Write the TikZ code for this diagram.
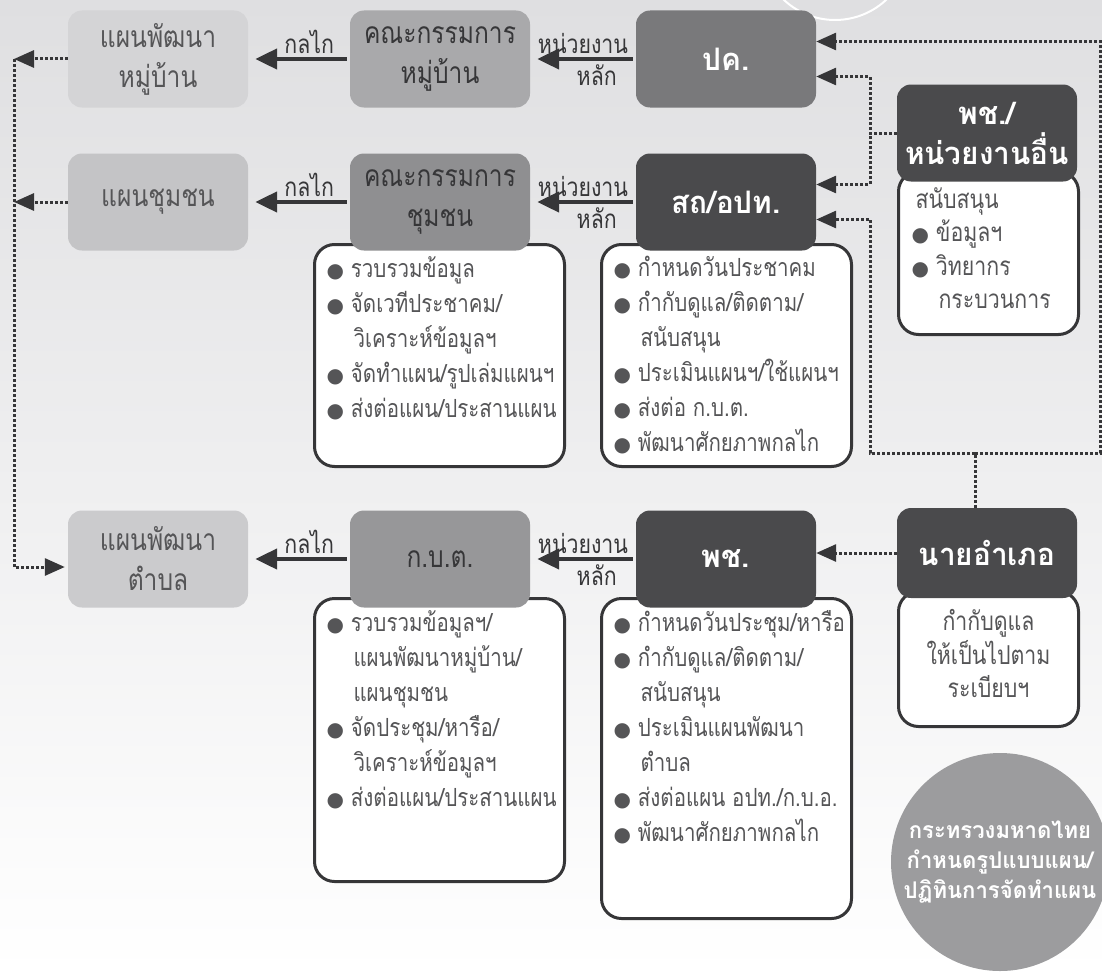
\documentclass[tikz,border=0pt]{standalone}
\usepackage{fontspec}
\usepackage{tikz}
\usetikzlibrary{arrows.meta}
\newfontfamily\thaif[Script=Thai,FakeStretch=0.82]{Loma}
\newfontfamily\thaiw[Script=Thai,FakeStretch=0.96]{Loma}
\newfontfamily\symf{DejaVu Sans}
\definecolor{ink}{HTML}{363638}
\definecolor{txt}{HTML}{555557}
\definecolor{bgtop}{HTML}{DFDFE1}
\definecolor{planA}{HTML}{D4D4D6}
\definecolor{planB}{HTML}{C4C4C6}
\definecolor{planC}{HTML}{CBCBCD}
\definecolor{teamA}{HTML}{A9A9AB}
\definecolor{teamB}{HTML}{8F8F91}
\definecolor{teamC}{HTML}{979799}
\definecolor{mid}{HTML}{79797B}
\definecolor{dark}{HTML}{4A4A4C}
\definecolor{moi}{HTML}{9C9C9E}
\newcommand\unit[5][unit]{\node[#1,fill=#4] (#2) at (#3) {#5};}
\newcommand\duty[4]{\node[duty] (#1) at (#2) {\parbox[c][#3][t]{226pt}{\raggedright #4}};}
\newcommand\bul{{\symf\fontsize{20}{20}\selectfont ●}\nobreak\hspace{7pt}\nobreak}
\newcommand\ind{\hspace*{27pt}}

\begin{document}
\begin{tikzpicture}[x=1pt,y=-1pt]
\tikzstyle{unit}=[rounded corners=14pt,minimum width=180pt,minimum height=97pt,inner sep=0pt,align=center,text=txt,font=\thaif\fontsize{30}{40}\selectfont]
\tikzstyle{team}=[unit,text=ink]
\tikzstyle{boss}=[unit,text=white,font=\thaiw\bfseries\fontsize{31}{40}\selectfont]
\tikzstyle{duty}=[draw=ink,line width=3pt,fill=white,rounded corners=20pt,anchor=north west,inner xsep=12pt,inner ysep=12pt,text=txt,font=\thaif\fontsize{25}{35}\selectfont]
\tikzstyle{main}=[ink,line width=4.5pt,shorten >=7pt,shorten <=3pt,-{Triangle[length=22pt,width=20pt]}]
\tikzstyle{feed}=[ink,line width=3pt,dotted,-{Triangle[length=20pt,width=17pt]}]
\tikzstyle{say}=[text=ink,font=\thaif\fontsize{26}{30}\selectfont,inner sep=3pt]
\useasboundingbox (0,0) rectangle (1102,974);
\fill[top color=bgtop,bottom color=white] (0,0) rectangle (1102,974);
\draw[white,line width=2pt] (835,-55) circle (75);

% duties
\duty{L2b}{313,243}{198pt}{\bul รวบรวมข้อมูล\\ \bul จัดเวทีประชาคม/\\ \ind วิเคราะห์ข้อมูลฯ\\ \bul จัดทำแผน/รูปเล่มแผนฯ\\ \bul ส่งต่อแผน/ประสานแผน}
\duty{L2c}{600,243}{198pt}{\bul กำหนดวันประชาคม\\ \bul กำกับดูแล/ติดตาม/\\ \ind สนับสนุน\\ \bul ประเมินแผนฯ/ใช้แผนฯ\\ \bul ส่งต่อ ก.บ.ต.\\ \bul พัฒนาศักยภาพกลไก}
\duty{L3b}{313,597}{259pt}{\bul รวบรวมข้อมูลฯ/\\ \ind แผนพัฒนาหมู่บ้าน/\\ \ind แผนชุมชน\\ \bul จัดประชุม/หารือ/\\ \ind วิเคราะห์ข้อมูลฯ\\ \bul ส่งต่อแผน/ประสานแผน}
\duty{L3c}{600,597}{296pt}{\bul กำหนดวันประชุม/หารือ\\ \bul กำกับดูแล/ติดตาม/\\ \ind สนับสนุน\\ \bul ประเมินแผนพัฒนา\\ \ind ตำบล\\ \bul ส่งต่อแผน~อปท./ก.บ.อ.\\ \bul พัฒนาศักยภาพกลไก}
\node[duty,minimum width=180pt] (L1d) at (897,170) {\parbox[c][139pt][t]{154pt}{\raggedright\fontsize{26}{33.5}\selectfont\vspace{4pt}\hspace*{4pt}สนับสนุน\\ \bul ข้อมูลฯ\\ \bul วิทยากร\\ \ind กระบวนการ}};
\node[duty,minimum width=180pt] (L3d) at (897,590) {\parbox[c][111pt][t]{154pt}{\centering\fontsize{26}{33.5}\selectfont\vspace{6pt}กำกับดูแล\\ ให้เป็นไปตาม\\ ระเบียบฯ}};

% units
\unit{A1}{158,59}{planA}{แผนพัฒนา\\หมู่บ้าน}
\unit[team]{B1}{440,59}{teamA}{คณะกรรมการ\\หมู่บ้าน}
\unit[boss]{C1}{726,59}{mid}{ปค.}
\unit{A2}{158,202}{planB}{แผนชุมชน}
\unit[team]{B2}{440,202}{teamB}{คณะกรรมการ\\ชุมชน}
\unit[boss]{C2}{726,202}{dark}{สถ/อปท.}
\unit{A3}{158,559}{planC}{แผนพัฒนา\\ตำบล}
\unit[team]{B3}{440,559}{teamC}{ก.บ.ต.}
\unit[boss]{C3}{726,559}{dark}{พช.}
\unit[boss]{D1}{987,133}{dark}{พช./\\หน่วยงานอื่น}
\unit[boss,minimum height=90pt]{D3}{987,553}{dark}{นายอำเภอ}
\node[circle,fill=moi,minimum size=206pt,align=center,text=white,font=\thaiw\bfseries\fontsize{23}{30}\selectfont] (moi) at (1000,862) {กระทรวงมหาดไทย\\กำหนดรูปแบบแผน/\\ปฏิทินการจัดทำแผน};

% main flow
\draw[main] (B1.west) -- (A1.east) node[say,above,pos=0.4] {กลไก};
\draw[main] (B2.west) -- (A2.east) node[say,above,pos=0.4] {กลไก};
\draw[main] (B3.west) -- (A3.east) node[say,above,pos=0.4] {กลไก};
\draw[main] (C1.west) -- (B1.east) node[say,above,pos=0.5] {หน่วยงาน} node[say,below,pos=0.37] {หลัก};
\draw[main] (C2.west) -- (B2.east) node[say,above,pos=0.5] {หน่วยงาน} node[say,below,pos=0.37] {หลัก};
\draw[main] (C3.west) -- (B3.east) node[say,above,pos=0.5] {หน่วยงาน} node[say,below,pos=0.37] {หลัก};

% plans to tambon
\coordinate (w1) at (14,59);
\coordinate (w2) at (14,202);
\coordinate (w3) at (14,567);
\draw[feed] (A1.west) -- (w1);
\draw[feed] (A2.west) -- (w2);
\draw[feed,shorten >=3pt] (w1) -- (w3) -- (A3.west |- w3);

% support and oversight
\coordinate (xl) at (870,0);
\coordinate (xr) at (1100,0);
\coordinate (yb) at (975,453);
\coordinate (c1a) at ([yshift=17.5pt]C1.east);
\coordinate (c1b) at ([yshift=-17.5pt]C1.east);
\coordinate (c2a) at ([yshift=17.5pt]C2.east);
\coordinate (c2b) at ([yshift=-17.5pt]C2.east);
\draw[feed] (D1.west) -| (xl |- c1b) -- (c1b);
\draw[feed] (D1.west) -| (xl |- c2a) -- (c2a);
\draw[feed,-] ([xshift=-12pt]D3.north) -- (yb);
\draw[feed] (yb) -| (xl |- c2b) -- (c2b);
\draw[feed] (yb) -| (xr |- c1a) -- (c1a);
\draw[feed] (D3.west) -- (C3.east |- D3.west);
\end{tikzpicture}
\end{document}
